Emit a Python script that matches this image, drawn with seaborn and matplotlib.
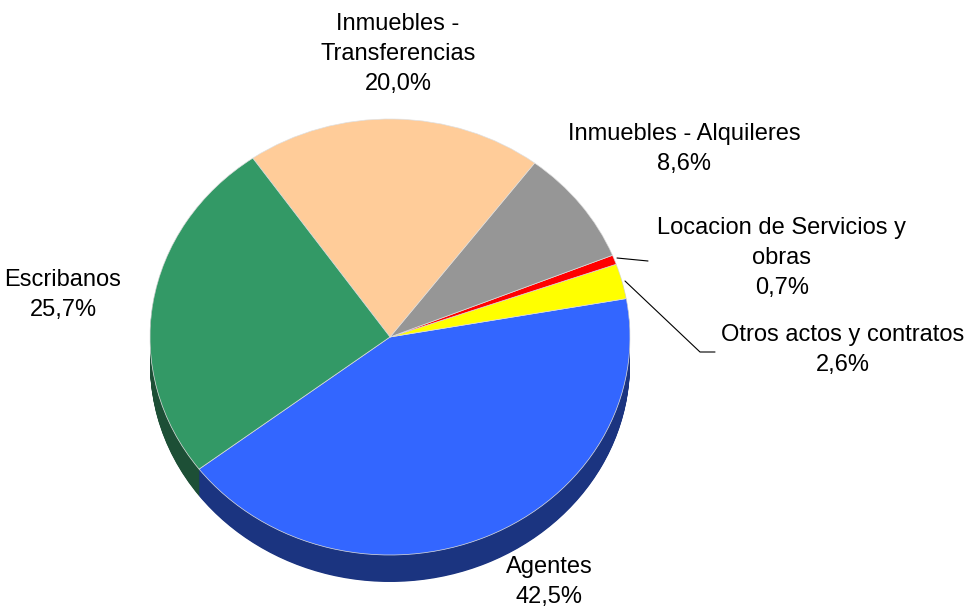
import matplotlib
matplotlib.use("Agg")
import matplotlib.pyplot as plt
import seaborn as sns

# datos del grafico (orden antihorario desde Agentes)
categorias = ["Agentes", "Otros actos y contratos", "Locacion de Servicios y obras",
              "Inmuebles - Alquileres", "Inmuebles - Transferencias", "Escribanos"]
porcentajes = [42.5, 2.6, 0.7, 8.6, 20.0, 25.7]
etiquetas = ["Agentes\n42,5%", "Otros actos y contratos\n2,6%",
             "Locacion de Servicios y\nobras\n0,7%", "Inmuebles - Alquileres\n8,6%",
             "Inmuebles -\nTransferencias\n20,0%", "Escribanos\n25,7%"]
colores = ["#3366FF", "#FFFF00", "#FF0000", "#969696", "#FFCC99", "#339966"]
colores_lado = ["#1B3480", "#80801A", "#801A1A", "#4B4B4B", "#806650", "#1D4F36"]

# posiciones de las etiquetas (centro del bloque de texto, en pixeles)
pos_etiquetas = [(549, 582), (843, 350), (782, 258), (684, 149), (398, 54), (63, 295)]

sns.set_theme(style="white")
plt.rcParams['font.family'] = ['Liberation Sans', 'DejaVu Sans']

fig = plt.figure(figsize=(9.78, 6.11), dpi=100)
ax = fig.add_axes([0, 0, 1, 1])

cx, cy, rx, ry = 390, 337, 240, 218
def px2data(px, py):
    return (px - cx) / rx, (cy - py) / ry

inicio = 217.3
profundidad = 27 / ry
n_capas = 40
for i in range(n_capas, 0, -1):
    d = profundidad * i / n_capas
    ax.pie(porcentajes, colors=colores_lado, startangle=inicio, counterclock=True,
           center=(0, -d), radius=1, wedgeprops=dict(linewidth=0))

ax.pie(porcentajes, colors=colores, startangle=inicio, counterclock=True,
       center=(0, 0), radius=1, wedgeprops=dict(linewidth=0.5, edgecolor="#E0E0E0"))

ax.set_aspect('auto')
ax.set_xlim(-cx / rx, (978 - cx) / rx)
ax.set_ylim((cy - 611) / ry, cy / ry)
ax.axis('off')

for texto, (px, py) in zip(etiquetas, pos_etiquetas):
    x, y = px2data(px, py)
    ax.text(x, y, texto, ha='center', va='center', fontsize=17,
            linespacing=1.45, color='black')

# lineas guia
l1 = [px2data(617, 258), px2data(648, 261)]
ax.plot([p[0] for p in l1], [p[1] for p in l1], color='black', lw=0.8)
l2 = [px2data(625, 281), px2data(700, 352), px2data(715, 352)]
ax.plot([p[0] for p in l2], [p[1] for p in l2], color='black', lw=0.8)

fig.savefig("out.png", dpi=100)
